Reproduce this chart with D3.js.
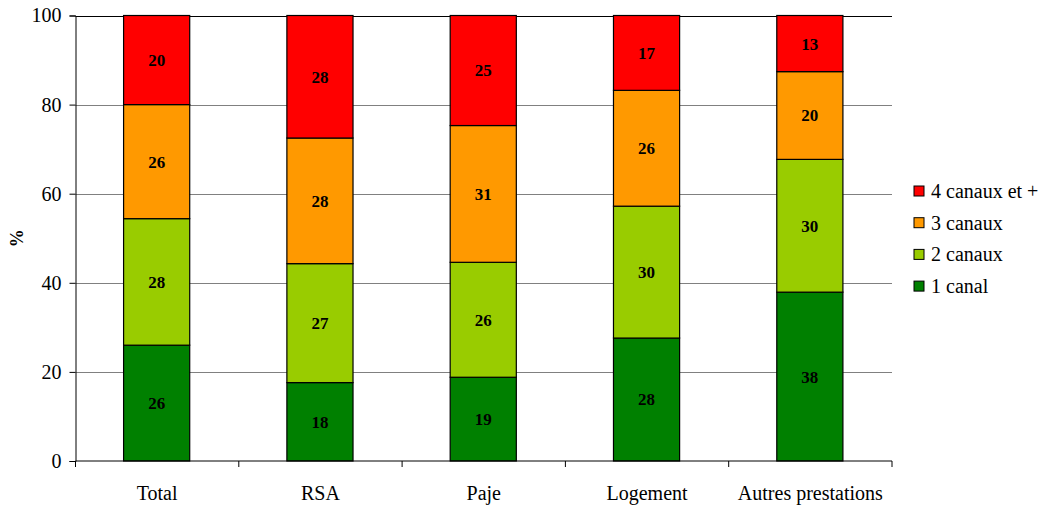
<!DOCTYPE html>
<html>
<head>
<meta charset="utf-8">
<script src="https://cdn.jsdelivr.net/npm/d3@7"></script>
<style>
  html, body { margin: 0; padding: 0; background: #fff; }
  svg, svg text { font-family: "Liberation Serif", "Times New Roman", serif; }
</style>
</head>
<body>
<svg id="chart" width="1047" height="507"></svg>
<script>
// Share of recipients by number of contact channels used, per benefit
const categories = ["Total", "RSA", "Paje", "Logement", "Autres prestations"];
const seriesNames = ["1 canal", "2 canaux", "3 canaux", "4 canaux et +"];
const canal1 = [26.0, 17.6, 18.8, 27.6, 37.9];
const canaux2 = [28.4, 26.7, 25.8, 29.6, 29.8];
const canaux3 = [25.6, 28.2, 30.7, 26.0, 19.7];
const canaux4 = [20.0, 27.5, 24.7, 16.8, 12.6];
const yTicks = [0, 20, 40, 60, 80, 100];
const colors = ["#008000", "#99CC00", "#FF9900", "#FF0000"];

const FONT = "'Liberation Serif', 'Times New Roman', serif";

const seriesValues = [canal1, canaux2, canaux3, canaux4];
const rows = categories.map((c, i) => {
  const r = { cat: c };
  seriesNames.forEach((s, k) => { r[s] = seriesValues[k][i]; });
  return r;
});

const svg = d3.select("#chart").attr("font-family", FONT);
const margin = { left: 75.5, right: 155, top: 15.5, bottom: 46 };
const W = 1047, H = 507;
const x0 = margin.left, x1 = W - margin.right;
const y0 = H - margin.bottom, y1 = margin.top;

const x = d3.scaleBand().domain(categories).range([x0, x1]).paddingInner(0).paddingOuter(0);
const y = d3.scaleLinear().domain([0, 100]).range([y0, y1]);
const barW = x.bandwidth() * 0.405;

// gridlines
svg.append("g").selectAll("line").data(yTicks.filter(t => t > 0)).join("line")
  .attr("x1", x0).attr("x2", x1)
  .attr("y1", d => Math.round(y(d)) + 0.5).attr("y2", d => Math.round(y(d)) + 0.5)
  .attr("stroke", d => d === 100 ? "#000" : "#808080").attr("stroke-width", 1);

// stacked bars
const stack = d3.stack().keys(seriesNames)(rows);
const layers = svg.append("g").selectAll("g").data(stack).join("g")
  .attr("fill", (d, i) => colors[i]);
layers.selectAll("rect").data(d => d).join("rect")
  .attr("x", d => x(d.data.cat) + (x.bandwidth() - barW) / 2 - 0.5)
  .attr("y", d => y(d[1]))
  .attr("width", barW)
  .attr("height", d => y(d[0]) - y(d[1]))
  .attr("stroke", "#000").attr("stroke-width", 1.2);

// value labels
layers.selectAll("text").data(d => d).join("text")
  .attr("x", d => x(d.data.cat) + x.bandwidth() / 2 - 0.5)
  .attr("y", d => (y(d[0]) + y(d[1])) / 2)
  .attr("dy", "0.35em")
  .attr("text-anchor", "middle")
  .attr("fill", "#000")
  .attr("font-weight", "bold")
  .attr("font-family", FONT)
  .attr("font-size", 17)
  .text(d => d3.format(".0f")(d[1] - d[0]));

// y axis
const yAxis = svg.append("g").attr("transform", `translate(${x0},0)`)
  .call(d3.axisLeft(y).tickValues(yTicks).tickSize(6).tickPadding(8).tickFormat(d3.format("d")))
  .attr("font-family", FONT);
yAxis.select(".domain").attr("stroke", "#000");
yAxis.selectAll("line").attr("stroke", "#000");
yAxis.selectAll("text").attr("font-size", 20).attr("fill", "#000");

// x axis with ticks between categories
const xAxisG = svg.append("g").attr("transform", `translate(0,${y0})`).attr("font-family", FONT);
xAxisG.append("line").attr("x1", x0).attr("x2", x1).attr("stroke", "#000");
const bounds = categories.map(c => x(c)).concat([x1]);
xAxisG.selectAll(".tk").data(bounds).join("line").attr("class", "tk")
  .attr("x1", d => d).attr("x2", d => d).attr("y1", 0).attr("y2", 6).attr("stroke", "#000");
xAxisG.selectAll("text").data(categories).join("text")
  .attr("x", d => x(d) + x.bandwidth() / 2)
  .attr("y", 39)
  .attr("text-anchor", "middle")
  .attr("font-size", 20)
  .attr("fill", "#000")
  .text(d => d);

// y axis title
svg.append("text")
  .attr("transform", `translate(23,${(y0 + y1) / 2}) rotate(-90)`)
  .attr("text-anchor", "middle")
  .attr("font-size", 18)
  .attr("font-weight", "bold")
  .attr("fill", "#000")
  .text("%");

// legend (top entry = top of stack)
const legendItems = seriesNames.map((s, i) => ({ s, c: colors[i] })).reverse();
const lg = svg.append("g").attr("transform", "translate(914,186)").attr("font-family", FONT);
const li = lg.selectAll("g").data(legendItems).join("g")
  .attr("transform", (d, i) => `translate(0,${i * 31.7})`);
li.append("rect").attr("width", 10).attr("height", 10)
  .attr("fill", d => d.c).attr("stroke", "#000").attr("stroke-width", 1);
li.append("text").attr("x", 17).attr("y", 5).attr("dy", "0.35em")
  .attr("font-size", 20).attr("fill", "#000").text(d => d.s);
</script>
</body>
</html>
